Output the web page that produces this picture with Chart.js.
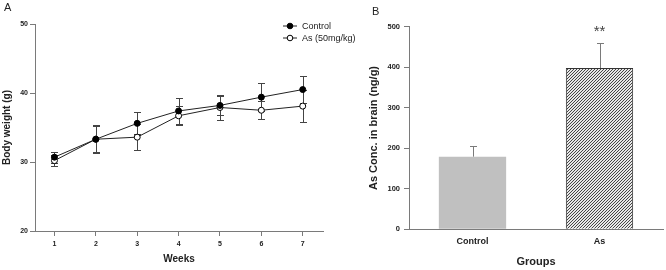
<!DOCTYPE html>
<html>
<head>
<meta charset="utf-8">
<script src="https://cdn.jsdelivr.net/npm/chart.js@4.4.1/dist/chart.umd.min.js"></script>
<style>
  html, body { margin: 0; padding: 0; background: #fff; }
  body { width: 666px; height: 270px; position: relative; overflow: hidden; font-family: "Liberation Sans", Arial, sans-serif; }
  .panel { position: absolute; top: 0; height: 270px; }
  #panelA { left: 0; width: 666px; }
  #panelB { left: 340px; width: 326px; }
  .letra { position: absolute; font-size: 11px; line-height: 11px; color: #222; }
</style>
</head>
<body>
<div class="panel" id="panelA"><canvas id="graficaPeso" width="666" height="270"></canvas></div>
<div class="panel" id="panelB"><canvas id="graficaCerebro" width="326" height="270"></canvas></div>
<div class="letra" style="left:4px;top:2px">A</div>
<div class="letra" style="left:372px;top:6px">B</div>
<script>
// panel A: peso corporal por semana
const semanas = [1, 2, 3, 4, 5, 6, 7];
const pesoControl = [30.7, 33.3, 35.6, 37.4, 38.2, 39.4, 40.5];
const errControl = [0.8, 2.0, 1.6, 1.9, 1.4, 2.0, 1.9];
const pesoAs = [30.2, 33.3, 33.6, 36.7, 37.9, 37.5, 38.1];
const errAs = [0.8, 1.9, 1.9, 1.4, 1.8, 1.3, 2.3];
const ticksPeso = [20, 30, 40, 50];

// panel B: concentracion de As en cerebro
const grupos = ["Control", "As"];
const concCerebro = [179, 398];
const errCerebro = [27, 62];
const signif = ["", "**"];
const ticksConc = [0, 100, 200, 300, 400, 500];

const fuente = "'Liberation Sans', Arial, sans-serif";
const gris = "#7a7a7a";

const barrasError = {
  id: "barrasError",
  beforeDatasetsDraw(chart, args, opts) {
    const { ctx } = chart;
    const y = chart.scales.y;
    ctx.save();
    ctx.strokeStyle = opts.color;
    ctx.lineWidth = 1;
    chart.data.datasets.forEach((ds, i) => {
      if (!ds.err) return;
      chart.getDatasetMeta(i).data.forEach((el, j) => {
        const v = typeof ds.data[j] === "object" ? ds.data[j].y : ds.data[j];
        const x = Math.round(el.x) + 0.5;
        const arriba = Math.round(y.getPixelForValue(v + ds.err[j])) + 0.5;
        const abajo = opts.soloArriba ? el.y : Math.round(y.getPixelForValue(v - ds.err[j])) + 0.5;
        ctx.beginPath();
        ctx.moveTo(x, arriba);
        ctx.lineTo(x, abajo);
        ctx.moveTo(x - opts.cap, arriba);
        ctx.lineTo(x + opts.cap, arriba);
        if (!opts.soloArriba) {
          ctx.moveTo(x - opts.cap, abajo);
          ctx.lineTo(x + opts.cap, abajo);
        }
        ctx.stroke();
      });
    });
    ctx.restore();
  }
};

const leyenda = {
  id: "leyenda",
  afterDraw(chart, args, opts) {
    const { ctx } = chart;
    ctx.save();
    ctx.font = "9px " + fuente;
    ctx.textBaseline = "middle";
    chart.data.datasets.forEach((ds, i) => {
      const y = opts.y + i * opts.gap;
      ctx.strokeStyle = ds.borderColor;
      ctx.lineWidth = 1;
      ctx.beginPath();
      ctx.moveTo(opts.x, y);
      ctx.lineTo(opts.x + 14, y);
      ctx.stroke();
      ctx.beginPath();
      ctx.arc(opts.x + 7, y, 2.8, 0, Math.PI * 2);
      ctx.fillStyle = ds.pointBackgroundColor;
      ctx.fill();
      ctx.strokeStyle = ds.pointBorderColor;
      ctx.stroke();
      ctx.fillStyle = "#222";
      ctx.fillText(ds.label, opts.x + 19, y + 0.5);
    });
    ctx.restore();
  }
};

const asteriscos = {
  id: "asteriscos",
  afterDatasetsDraw(chart) {
    const { ctx } = chart;
    const y = chart.scales.y;
    const ds = chart.data.datasets[0];
    ctx.save();
    ctx.font = "15px " + fuente;
    ctx.fillStyle = "#444";
    ctx.textAlign = "center";
    ctx.textBaseline = "alphabetic";
    chart.getDatasetMeta(0).data.forEach((el, j) => {
      if (!signif[j]) return;
      const tope = y.getPixelForValue(ds.data[j] + ds.err[j]);
      ctx.fillText(signif[j], el.x, tope - 7);
    });
    ctx.restore();
  }
};

function crearTrama() {
  const c = document.createElement("canvas");
  c.width = 3; c.height = 3;
  const g = c.getContext("2d");
  g.fillStyle = "#e8e8e8";
  g.fillRect(0, 0, 3, 3);
  g.strokeStyle = "#333";
  g.lineWidth = 0.9;
  g.beginPath();
  g.moveTo(0, 3); g.lineTo(3, 0);
  g.moveTo(-1, 1); g.lineTo(1, -1);
  g.moveTo(2, 4); g.lineTo(4, 2);
  g.stroke();
  return g.createPattern(c, "repeat");
}

function ejeComun(ticks, fontSize, pad) {
  return {
    border: { display: true, color: gris, width: 1 },
    grid: { display: true, drawOnChartArea: false, drawTicks: true, tickLength: 5, color: gris },
    ticks: { font: { family: fuente, size: fontSize, weight: "bold" }, color: "#222", padding: pad },
    afterBuildTicks: s => { s.ticks = ticks.map(v => ({ value: v })); }
  };
}

Chart.defaults.animation = false;

new Chart(document.getElementById("graficaPeso").getContext("2d"), {
  type: "line",
  data: {
    datasets: [{
      label: "Control",
      data: semanas.map((w, i) => ({ x: w, y: pesoControl[i] })),
      err: errControl,
      borderColor: "#222",
      borderWidth: 1,
      pointRadius: 3,
      pointBackgroundColor: "#000",
      pointBorderColor: "#000",
      pointBorderWidth: 1,
      tension: 0
    }, {
      label: "As (50mg/kg)",
      data: semanas.map((w, i) => ({ x: w, y: pesoAs[i] })),
      err: errAs,
      borderColor: "#222",
      borderWidth: 1,
      pointRadius: 3,
      pointBackgroundColor: "#fff",
      pointBorderColor: "#000",
      pointBorderWidth: 1,
      tension: 0
    }]
  },
  options: {
    responsive: false,
    layout: { padding: { top: 24, right: 343, left: 0, bottom: 0 } },
    plugins: {
      legend: { display: false },
      tooltip: { enabled: false },
      barrasError: { color: "#444", cap: 3.5, soloArriba: false },
      leyenda: { x: 283, y: 26, gap: 12 }
    },
    scales: {
      x: {
        type: "linear", min: 0.53, max: 7.49,
        ...ejeComun(semanas, 7, 4),
        title: { display: true, text: "Weeks", color: "#222", font: { family: fuente, size: 10, weight: "bold" }, padding: { top: 0, bottom: 5 } },
        afterFit: s => { s.height = 39; }
      },
      y: {
        min: 20, max: 50,
        ...ejeComun(ticksPeso, 7, 2),
        title: { display: true, text: "Body weight (g)", color: "#222", font: { family: fuente, size: 10, weight: "bold" }, padding: { top: 1, bottom: 0 } },
        afterFit: s => { s.width = 35; }
      }
    }
  },
  plugins: [barrasError, leyenda]
});

new Chart(document.getElementById("graficaCerebro").getContext("2d"), {
  type: "bar",
  data: {
    labels: grupos,
    datasets: [{
      label: "As Conc. in brain",
      data: concCerebro,
      err: errCerebro,
      backgroundColor: ["#c0c0c0", crearTrama()],
      borderColor: ["#c0c0c0", "#333"],
      borderWidth: [0, 1],
      categoryPercentage: 1,
      barPercentage: 0.53
    }]
  },
  options: {
    responsive: false,
    layout: { padding: { top: 26.7, right: 3, left: 0, bottom: 0 } },
    plugins: {
      legend: { display: false },
      tooltip: { enabled: false },
      barrasError: { color: gris, cap: 3.5, soloArriba: true }
    },
    scales: {
      x: {
        border: { display: true, color: gris, width: 1 },
        grid: { display: false, drawTicks: false },
        ticks: { font: { family: fuente, size: 9, weight: "bold" }, color: "#222", padding: 7 },
        title: { display: true, text: "Groups", color: "#222", font: { family: fuente, size: 11, weight: "bold" }, padding: { top: 0, bottom: 1.5 } },
        afterFit: s => { s.height = 40.7; }
      },
      y: {
        min: 0, max: 500,
        ...ejeComun(ticksConc, 7.5, 4),
        title: { display: true, text: "As Conc. in brain (ng/g)", color: "#222", font: { family: fuente, size: 11, weight: "bold" }, padding: { top: 27, bottom: 0 } },
        afterFit: s => { s.width = 69; }
      }
    }
  },
  plugins: [barrasError, asteriscos]
});
</script>
</body>
</html>
